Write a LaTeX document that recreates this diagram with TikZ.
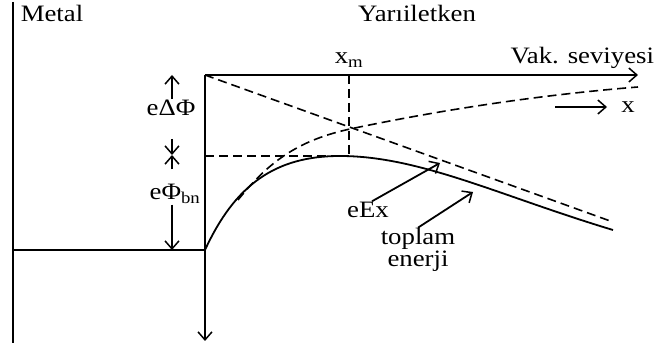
\documentclass[tikz,border=0pt]{standalone}
\usepackage{fontspec}
\setmainfont{Liberation Serif}[FakeStretch=1.14]
\usetikzlibrary{arrows.meta,positioning}
\tikzset{
  lbl/.style={font=\fontsize{23.5}{17}\selectfont,inner sep=0pt,align=center},
  barb/.style={-{Straight Barb[length=8pt,width=14pt,line width=1.5pt]}},
  dsh/.style={dash pattern=on 9pt off 5pt,line width=1.6pt}
}

\begin{document}
\begin{tikzpicture}[x=1pt,y=-1pt,line width=1.8pt]
\useasboundingbox (0,0) rectangle (657,352);
% reference points
\coordinate (mtop) at (13,2); \coordinate (mbot) at (13,343);
\coordinate (vac) at (205,75); \coordinate (vacend) at (638,75);
\coordinate (fermi0) at (13,250); \coordinate (fermi) at (205,250);
\coordinate (down) at (205,341);
\coordinate (xmtop) at (349,75); \coordinate (peak) at (349,156);
\coordinate (bar) at (172,155);
\coordinate (lineend) at (613,222);
\coordinate (tipE) at (440,163); \coordinate (tipT) at (473,192);
% labels
\node[lbl] (metal) at (52,13) {Metal};
\node[lbl] (semi) at (417,13) {Yarıiletken};
\node[lbl,anchor=east] (vak) at (655,58) {Vak. seviyesi};
\node[lbl] (xm) at (349,60) {x\textsubscript{m}};
\node[lbl] (dphi) at (171,108) {eΔΦ};
\node[lbl] (phib) at (175,194) {eΦ\textsubscript{bn}};
\node[lbl] (xlbl) at (628,107) {x};
\node[lbl,left=12pt of xlbl] (xarr) {};
\node[lbl] (eex) at (368,210) {eEx};
\node[lbl] (top) at (418,250) {toplam\\enerji};
% axes
\draw (mtop) -- (mbot);
\draw (fermi0) -- (fermi);
\draw[barb] (vac) -- (down);
\draw[barb] (vac) -- (vacend);
\draw[barb,line width=1.2pt] ([xshift=-52pt]xarr.center) -- (xarr.center);
% barrier arrows
\draw[barb] (dphi.north -| bar) -- (vac -| bar);
\draw[barb] ([yshift=-22pt]dphi.south -| bar) -- (bar);
\draw[barb] ([yshift=14pt]phib.north -| bar) -- (bar);
\draw[barb] (phib.south -| bar) -- (fermi -| bar);
% dashed lines
\draw[dsh] (vac) -- (lineend);
\draw[dsh,line width=1.2pt] (205,156) -- (peak);
\draw[dsh,line width=1.2pt] (xmtop) -- (peak);
\draw[dsh] (238,200) .. controls (270,160) and (300,140) .. (350,129)
  .. controls (450,108) and (550,94) .. (638,87);
% total energy
\draw (fermi) .. controls (235,185) and (275,156) .. (340,156)
  .. controls (420,156) and (500,196) .. (613,230);
% pointers
\draw[barb] ([xshift=4pt]eex.north) -- (tipE);
\draw[barb] (top.north) -- (tipT);
\end{tikzpicture}
\end{document}
